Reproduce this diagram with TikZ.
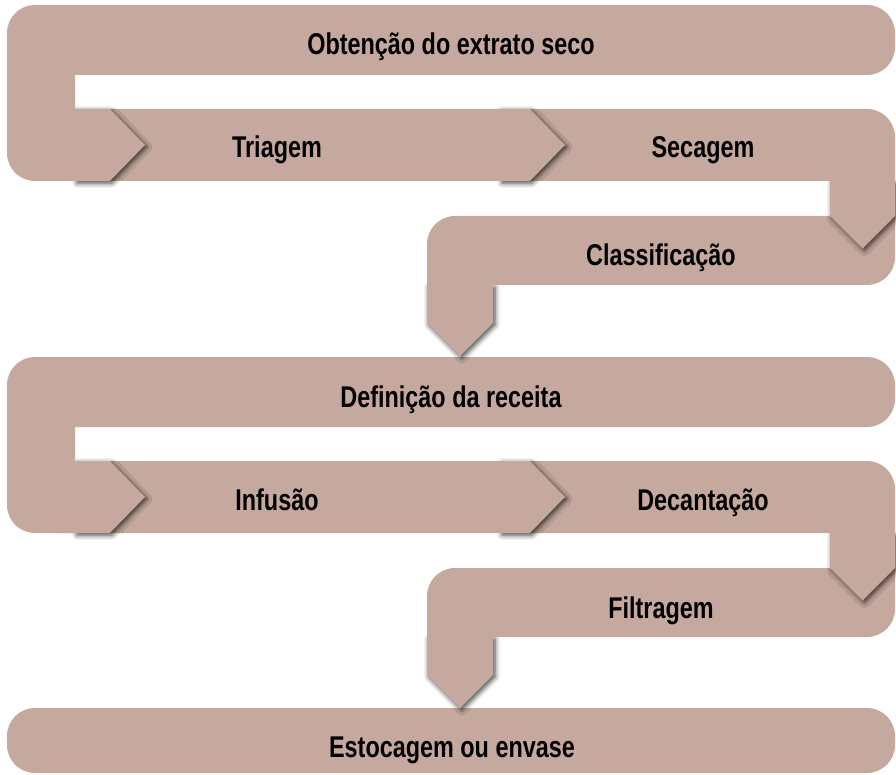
\documentclass[tikz,border=0pt]{standalone}
\usepackage{fontspec}
\setmainfont{Liberation Sans}[FakeStretch=0.78]
\usetikzlibrary{shadows.blur}
\definecolor{tan}{RGB}{198,169,158}
\tikzset{
  shapefill/.style={fill=tan},
  tipshadow/.style={blur shadow={shadow xshift=2pt, shadow yshift=-2pt, shadow blur radius=5pt, shadow opacity=75}},
  lbl/.style={anchor=base, inner sep=0pt, font=\fontsize{30}{32}\selectfont\bfseries, text=black}
}
\begin{document}
\begin{tikzpicture}[x=1pt,y=-1pt]
\useasboundingbox (0,0) rectangle (896,775);
% Estocagem
\fill[shapefill, rounded corners=28pt] (7,708) rectangle (895,773);
\node[lbl] (estoc) at (452,757) {Estocagem ou envase};
\foreach \dy in {352, 0} {
\begin{scope}[shift={(0,\dy)}]
  % Classificacao / Filtragem
  \path[tipshadow] (427,285) -- (493,285) -- (493,323) -- (460,356) -- (427,323) -- cycle;
  \fill[shapefill] (427,323) -- (427,244) .. controls (427,228.5) and (439.5,216) .. (455,216)
     -- (895,216) -- (895,257) .. controls (895,272.5) and (882.5,285) .. (867,285)
     -- (493,285) -- (493,323) -- (460,356) -- cycle;
  % Secagem / Decantacao
  \path[tipshadow] (830,181) -- (895,181) -- (895,216) -- (862.5,248.5) -- (830,216) -- cycle;
  \fill[shapefill] (500,109) -- (867,109) .. controls (882.5,109) and (895,121.5) .. (895,137)
     -- (895,216) -- (862.5,248.5) -- (830,216) -- (830,181) -- (500,181) -- cycle;
  % Triagem / Infusao
  \path[tipshadow] (500,109) -- (530,109) -- (565,145) -- (530,181) -- (500,181) -- cycle;
  \fill[shapefill] (60,109) -- (530,109) -- (565,145) -- (530,181) -- (60,181) -- cycle;
  % Obtencao / Definicao
  \path[tipshadow] (75,109) -- (110,109) -- (145,145) -- (110,181) -- (75,181) -- cycle;
  \fill[shapefill] (75,75) -- (75,109) -- (110,109) -- (145,145) -- (110,181) -- (35,181)
     .. controls (19.5,181) and (7,168.5) .. (7,153) -- (7,33)
     .. controls (7,17.5) and (19.5,5) .. (35,5) -- (867,5)
     .. controls (882.5,5) and (895,17.5) .. (895,33) -- (895,47)
     .. controls (895,62.5) and (882.5,75) .. (867,75) -- cycle;
\end{scope}
}
\node[lbl] (obt) at (451,55) {Obtenção do extrato seco};
\node[lbl] (tri) at (277,158) {Triagem};
\node[lbl] (sec) at (703,158) {Secagem};
\node[lbl] (cla) at (661,266) {Classificação};
\node[lbl] (def) at (451,407) {Definição da receita};
\node[lbl] (inf) at (277,510) {Infusão};
\node[lbl] (dec) at (703,510) {Decantação};
\node[lbl] (fil) at (661,618) {Filtragem};
\end{tikzpicture}
\end{document}
